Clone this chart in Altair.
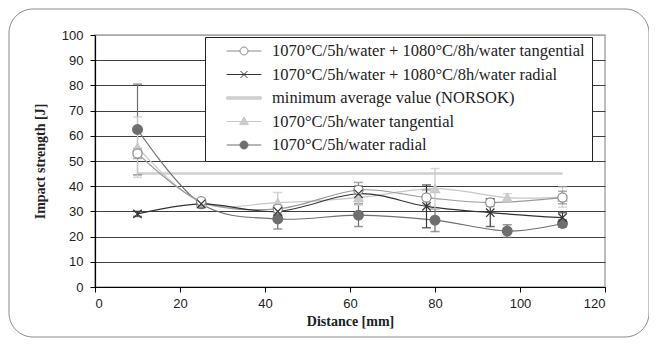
import altair as alt
import pandas as pd

# ---- data ----
names = [
    "1070°C/5h/water + 1080°C/8h/water tangential",
    "1070°C/5h/water + 1080°C/8h/water radial",
    "minimum average value (NORSOK)",
    "1070°C/5h/water tangential",
    "1070°C/5h/water radial",
]

dist_a = [10, 25, 43, 62, 78, 93, 110]
val_a = [53, 34, 31, 38.5, 35.5, 33.5, 35.5]
err_a = [2, 1, 1.5, 3, 3, 1.5, 2.5]

dist_b = [10, 25, 43, 62, 78, 93, 110]
val_b = [29, 33, 30, 37, 32, 29.5, 27.5]
err_b = [1, 1, 1.5, 3, 8.5, 5.5, 2]

dist_c = [10, 110]
val_c = [45, 45]

dist_d = [10, 25, 43, 62, 80, 97, 110]
val_d = [55.5, 33.5, 33.5, 35.5, 39, 35.5, 35.7]
err_d = [12, 1, 4, 3, 8, 1.5, 4]

dist_e = [10, 25, 43, 62, 80, 97, 110]
val_e = [62.5, 33, 27, 28.5, 26.5, 22.2, 25.2]
err_e = [18, 1.5, 4, 4.5, 4.5, 2.5, 1.5]

x_ticks = [0, 20, 40, 60, 80, 100, 120]
y_ticks = [0, 10, 20, 30, 40, 50, 60, 70, 80, 90, 100]

line_colors = ["#9a9a9a", "#333333", "#cfcfcf", "#c8c8c8", "#707070"]
mark_fills = ["white", "none", "#cfcfcf", "#cccccc", "#6e6e6e"]
mark_strokes = ["#8a8a8a", "#333333", "#cfcfcf", "#c8c8c8", "#6e6e6e"]


def frame(name, d, v, e=None):
    df = pd.DataFrame({"series": name, "d": d, "v": v})
    if e is not None:
        df["lo"] = [a - b for a, b in zip(v, e)]
        df["hi"] = [a + b for a, b in zip(v, e)]
    return df


df_a = frame(names[0], dist_a, val_a, err_a)
df_b = frame(names[1], dist_b, val_b, err_b)
df_c = frame(names[2], dist_c, val_c)
df_d = frame(names[3], dist_d, val_d, err_d)
df_e = frame(names[4], dist_e, val_e, err_e)

SERIF = "Liberation Serif, DejaVu Serif, serif"
TICKF = "Liberation Sans"

xs = alt.Scale(domain=[0, 120], nice=False)
ys = alt.Scale(domain=[0, 100], nice=False)

ax_x = alt.Axis(
    values=x_ticks, grid=False, tickSize=5, labelPadding=5, labelOverlap=False,
    title="Distance [mm]", titleFont=SERIF, titleFontSize=14,
    titleFontWeight="bold", titlePadding=4, titleColor="#222")
ax_y = alt.Axis(
    values=y_ticks, grid=True, tickSize=5, labelPadding=7, labelOverlap=False,
    gridColor={"condition": {"test": "datum.value === 100", "value": "#a8a8a8"},
               "value": "#404040"},
    title="Impact strength [J]", titleFont=SERIF, titleFontSize=14,
    titleFontWeight="bold", titlePadding=14, titleColor="#222")

X = alt.X("d:Q", scale=xs, axis=ax_x)
Y = alt.Y("v:Q", scale=ys, axis=ax_y)
YLO = alt.Y("lo:Q", scale=ys, axis=ax_y)
YHI = alt.Y("hi:Q", scale=ys, axis=ax_y)

layers = []

# rounded outer frame
layers.append(
    alt.Chart(pd.DataFrame({"k": [0]})).mark_rect(
        fill="none", stroke="#8a8a8a", strokeWidth=1, cornerRadius=24
    ).encode(x=alt.value(-86), x2=alt.value(554), y=alt.value(-26), y2=alt.value(302))
)

# NORSOK line
layers.append(alt.Chart(df_c).mark_line(color=line_colors[2], strokeWidth=2.5).encode(x=X, y=Y))

series = [(df_e, 4, "circle"), (df_d, 3, "triangle-up"), (df_a, 0, "circle"), (df_b, 1, "cross")]
for df, i, shp in series:
    layers.append(alt.Chart(df).mark_line(color=line_colors[i], strokeWidth=1.2,
                                          interpolate="cardinal").encode(x=X, y=Y))
for df, i, shp in series:
    base = alt.Chart(df)
    layers.append(base.mark_rule(color=mark_strokes[i], strokeWidth=1.2).encode(
        x=X, y=YLO, y2="hi:Q"))
    layers.append(base.mark_tick(color=mark_strokes[i], orient="horizontal", size=9,
                                 thickness=1.5).encode(x=X, y=YLO))
    layers.append(base.mark_tick(color=mark_strokes[i], orient="horizontal", size=9,
                                 thickness=1.5).encode(x=X, y=YHI))
for df, i, shp in series:
    if shp == "cross":
        layers.append(alt.Chart(df).mark_point(
            shape="M-1,-1L1,1M-1,1L1,-1", size=70, stroke=mark_strokes[i], strokeWidth=1.2,
            filled=False, opacity=1).encode(x=X, y=Y))
    else:
        layers.append(alt.Chart(df).mark_point(
            shape=shp, size=95 if i == 4 else 85, fill=mark_fills[i], stroke=mark_strokes[i],
            strokeWidth=1.2, opacity=1, filled=(mark_fills[i] != "white")).encode(x=X, y=Y))

# legend symbols: line + marker paths
r = 0.23
circ = f"M-{r},0A{r},{r},0,1,1,{r},0A{r},{r},0,1,1,-{r},0Z"
paths = [
    f"M-1,0H-{r}M{r},0H1" + circ,
    "M-1,0H1M-0.2,-0.2L0.2,0.2M-0.2,0.2L0.2,-0.2",
    "M-1,-0.07H1V0.07H-1Z",
    "M-1,0H1M0,-0.27L0.25,0.18H-0.25Z",
    "M-1,0H1" + circ,
]
legend_df = pd.DataFrame({"series": names, "d": [50] * 5, "v": [50] * 5})
leg = alt.Legend(title=None, orient="none", legendX=110, legendY=2, direction="vertical",
                 labelFont=SERIF)
layers.append(alt.Chart(legend_df).mark_point(opacity=0, size=1200).encode(
    x=X, y=Y,
    shape=alt.Shape("series:N", scale=alt.Scale(domain=names, range=paths), legend=leg),
    stroke=alt.Stroke("series:N", scale=alt.Scale(domain=names, range=mark_strokes), legend=leg),
    fill=alt.Fill("series:N", scale=alt.Scale(domain=names,
                                             range=["white", "none", "#cfcfcf", "#cccccc", "#6e6e6e"]),
                  legend=leg),
))

chart = alt.layer(*layers).properties(
    width=510, height=252,
    autosize=alt.AutoSizeParams(type="none"),
    padding={"left": 87, "top": 27, "right": 44, "bottom": 51},
    background="white",
).configure_view(stroke="#a8a8a8", strokeWidth=1.5).configure_axis(
    domainColor="#000", tickColor="#000", labelFont=TICKF, labelFontSize=13,
    labelColor="#222", domainWidth=1.2,
).configure_legend(
    labelFont=SERIF, labelFontSize=16.5, labelColor="#222", symbolOpacity=1,
    symbolSize=1200, symbolStrokeWidth=1, clipHeight=14, rowPadding=6.5, padding=7,
    symbolOffset=14, labelOffset=10, fillColor="white", strokeColor="#222",
    labelLimit=600,
)

chart.save("out.html", embed_options={"renderer": "svg", "actions": False})
